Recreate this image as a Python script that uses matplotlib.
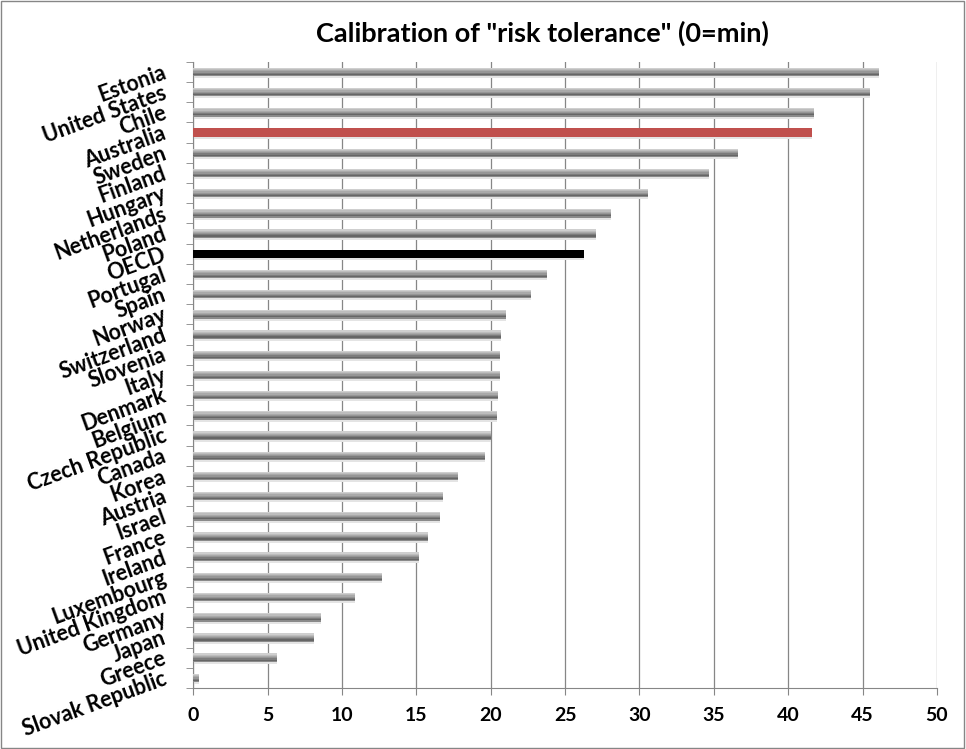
import numpy as np
import matplotlib.pyplot as plt
from matplotlib.patches import Rectangle

countries = ['Estonia', 'United States', 'Chile', 'Australia', 'Sweden', 'Finland',
             'Hungary', 'Netherlands', 'Poland', 'OECD', 'Portugal', 'Spain',
             'Norway', 'Switzerland', 'Slovenia', 'Italy', 'Denmark', 'Belgium',
             'Czech Republic', 'Canada', 'Korea', 'Austria', 'Israel', 'France',
             'Ireland', 'Luxembourg', 'United Kingdom', 'Germany', 'Japan',
             'Greece', 'Slovak Republic']
values = [46.1, 45.5, 41.7, 41.6, 36.6, 34.7,
          30.6, 28.1, 27.1, 26.3, 23.8, 22.7,
          21.0, 20.7, 20.6, 20.6, 20.5, 20.4,
          20.0, 19.6, 17.8, 16.8, 16.6, 15.8,
          15.2, 12.7, 10.9, 8.6, 8.1,
          5.6, 0.4]
highlight = {'Australia': '#C0504D', 'OECD': '#000000'}

plt.rcParams['font.family'] = ['Lato', 'DejaVu Sans']

fig = plt.figure(figsize=(9.66, 7.49), dpi=100)
ax = fig.add_axes([0.2, 0.0814, 0.77, 0.836])

y = np.arange(len(countries))
bar_h = 0.42
# shaded strips, top to bottom, to mimic the cylinder look
strips = ['#cfcfcf', '#bdbdbd', '#a9a9a9', '#969696', '#7c7c7c', '#666666', '#8a8a8a']
n = len(strips)
for i, (c, v) in enumerate(zip(countries, values)):
    top = y[i] - bar_h / 2
    if c in highlight:
        ax.barh(y[i], v, height=bar_h, color=highlight[c], zorder=3)
    else:
        for k, col in enumerate(strips):
            ax.barh(top + (k + 0.5) * bar_h / n, v, height=bar_h / n,
                    color=col, linewidth=0, zorder=3)
    # soft shadow under the bar
    ax.barh(y[i] + bar_h / 2 + 0.05, v, height=0.1, color='#e4e4e4',
            linewidth=0, zorder=2)

ax.set_xlim(0, 50)
ax.set_ylim(len(countries) - 0.5, -0.5)
ax.set_xticks(np.arange(0, 51, 5))
ax.tick_params(axis='x', direction='out', length=5, color='#868686',
               labelsize=14, pad=9)
for lab in ax.get_xticklabels():
    lab.set_fontweight('bold')

ax.set_yticks(y)
ax.set_yticklabels(countries, rotation=20, ha='right', va='center',
                   rotation_mode='anchor', fontsize=15.5, fontweight='bold')
ax.set_yticks(np.arange(-0.5, len(countries), 1), minor=True)
ax.tick_params(axis='y', which='major', length=0, pad=20)
ax.tick_params(axis='y', which='minor', direction='out', length=5,
               color='#868686')

ax.grid(axis='x', color='#868686', linewidth=0.9, zorder=0)
ax.set_axisbelow(True)
for s in ['top', 'right']:
    ax.spines[s].set_visible(False)
for s in ['left', 'bottom']:
    ax.spines[s].set_color('#868686')

fig.text(0.562, 0.956, 'Calibration of "risk tolerance" (0=min)', ha='center',
         va='center', fontsize=19.5, fontweight='bold')

fig.patches.append(Rectangle((0.001, 0.002), 0.997, 0.996, transform=fig.transFigure,
                             fill=False, edgecolor='#868686', linewidth=1))

fig.savefig('out.png', dpi=100, facecolor='white')
